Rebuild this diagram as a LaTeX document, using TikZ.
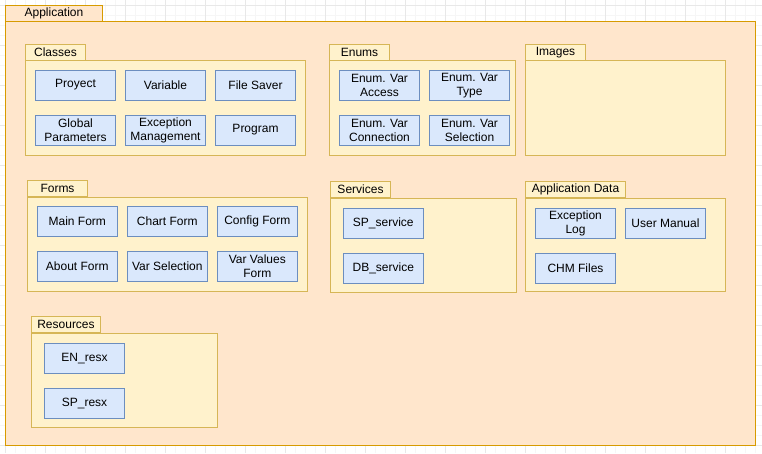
\documentclass[tikz,border=0pt]{standalone}
\usepackage{fontspec}
\setmainfont{Liberation Sans}
\usepackage{xcolor}
\usepackage{tikz}
\usetikzlibrary{positioning}
\definecolor{appfill}{HTML}{FFE6CC}
\definecolor{appdraw}{HTML}{D79B00}
\definecolor{pkgfill}{HTML}{FFF2CC}
\definecolor{pkgdraw}{HTML}{D6B656}
\definecolor{clsfill}{HTML}{DAE8FC}
\definecolor{clsdraw}{HTML}{6C8EBF}
\definecolor{gridmin}{HTML}{F6F6F6}
\definecolor{gridmaj}{HTML}{E8E8E8}
\tikzset{
  appbox/.style={draw=appdraw, fill=appfill, line width=0.75pt},
  pkgbox/.style={draw=pkgdraw, fill=pkgfill, line width=0.75pt},
  tab/.style={rectangle, anchor=south west, inner sep=0pt, minimum height=12pt, font=\fontsize{9}{10.5}\selectfont},
  apptab/.style={tab, appbox},
  pkgtab/.style={tab, pkgbox},
  cls/.style={rectangle, draw=clsdraw, fill=clsfill, line width=0.75pt, minimum width=60pt, minimum height=22.5pt,
    inner sep=0pt, align=center, font=\fontsize{9}{10.5}\selectfont},
  gridminor/.style={draw=gridmin, line width=0.5pt},
  gridmajor/.style={draw=gridmaj, line width=0.5pt}
}

\begin{document}
\begin{tikzpicture}[x=0.75pt, y=-0.75pt]
  \useasboundingbox (0,0) rectangle (762,453);
  \fill[white] (0,0) rectangle (762,453);
  \foreach \gx in {5,15,...,755} \draw[gridminor] (\gx,0) -- (\gx,453);
  \foreach \gy in {5,15,...,445} \draw[gridminor] (0,\gy) -- (762,\gy);
  \foreach \gx in {5,45,...,755} \draw[gridmajor] (\gx,0) -- (\gx,453);
  \foreach \gy in {5,45,...,445} \draw[gridmajor] (0,\gy) -- (762,\gy);

  % application frame
  \draw[appbox] (5,22) rectangle (755,445);
  \node[apptab, minimum width=72.75pt] (application) at (5,22) {Application};

  % packages
  \draw[pkgbox] (25,61) rectangle (305,155);
  \node[pkgtab, minimum width=45pt] (classes) at (25,61) {Classes};
  \draw[pkgbox] (329,61) rectangle (515,155);
  \node[pkgtab, minimum width=45pt] (enums) at (329,61) {Enums};
  \draw[pkgbox] (525,61) rectangle (725,155);
  \node[pkgtab, minimum width=45pt] (images) at (525,61) {Images};
  \draw[pkgbox] (27,197) rectangle (307,291);
  \node[pkgtab, minimum width=45pt] (forms) at (27,197) {Forms};
  \draw[pkgbox] (330,198) rectangle (516,292);
  \node[pkgtab, minimum width=45pt] (services) at (330,198) {Services};
  \draw[pkgbox] (525,198) rectangle (725,291);
  \node[pkgtab, minimum width=75pt] (appdata) at (525,198) {Application Data};
  \draw[pkgbox] (31,333) rectangle (217,427);
  \node[pkgtab, minimum width=51.75pt] (resources) at (31,333) {Resources};

  % classes
  \node[cls] (proyect) at (75.5,85) {Proyect};
  \node[cls] (variable) at (165.5,85) {Variable};
  \node[cls] (filesaver) at (255.5,85) {File Saver};
  \node[cls] (globalparams) at (75.5,130) {Global\\Parameters};
  \node[cls] (exceptmgmt) at (165.5,130) {Exception\\Management};
  \node[cls] (program) at (255.5,130) {Program};

  % enums
  \node[cls] (varaccess) at (379.5,85.5) {Enum. Var\\Access};
  \node[cls] (vartype) at (469.5,85.5) {Enum. Var\\Type};
  \node[cls] (varconnection) at (379.5,130.5) {Enum. Var\\Connection};
  \node[cls] (varselection) at (469.5,130.5) {Enum. Var\\Selection};

  % forms
  \node[cls] (mainform) at (77.3,221.3) {Main Form};
  \node[cls] (chartform) at (167.3,221.3) {Chart Form};
  \node[cls] (configform) at (257.3,221.3) {Config Form};
  \node[cls] (aboutform) at (77.3,266.3) {About Form};
  \node[cls] (varsel) at (167.3,266.3) {Var Selection};
  \node[cls] (varvalues) at (257.3,266.3) {Var Values\\Form};

  % services
  \node[cls] (spservice) at (383.3,223.5) {SP\_service};
  \node[cls] (dbservice) at (383.3,268.5) {DB\_service};

  % application data
  \node[cls] (exceptlog) at (575.5,223.5) {Exception\\Log};
  \node[cls] (usermanual) at (665.5,223.5) {User Manual};
  \node[cls] (chmfiles) at (575.5,268.5) {CHM Files};

  % resources
  \node[cls] (enresx) at (84.5,358.3) {EN\_resx};
  \node[cls] (spresx) at (84.5,403.3) {SP\_resx};
\end{tikzpicture}
\end{document}
